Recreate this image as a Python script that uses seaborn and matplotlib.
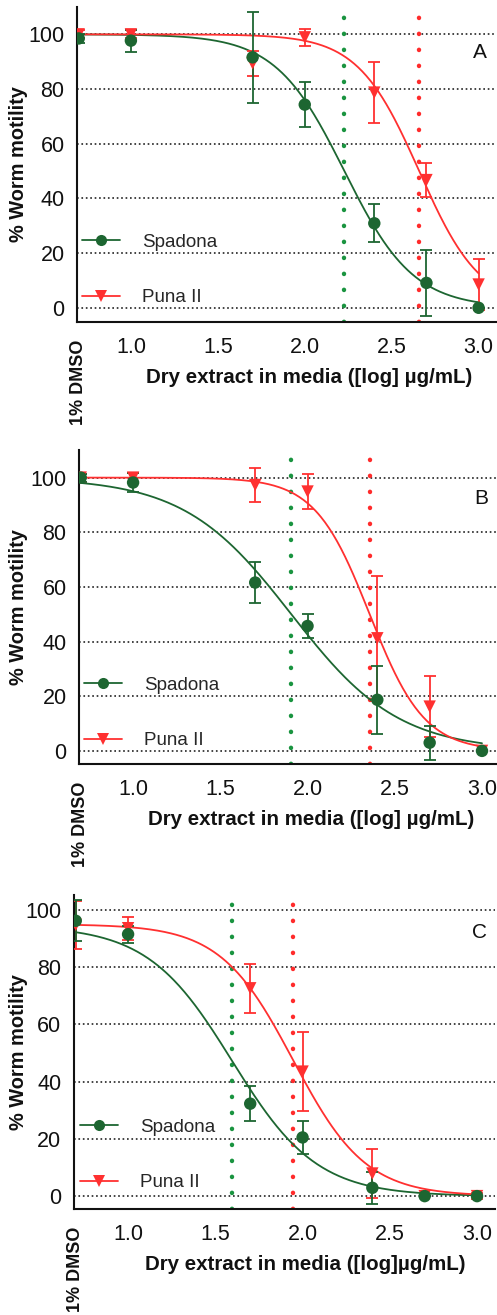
import numpy as np
import pandas as pd
import matplotlib
matplotlib.use("Agg")
import matplotlib.pyplot as plt
import matplotlib.transforms as mtransforms
import seaborn as sns

sns.set_theme(style="white")
plt.rcParams['font.family'] = ['Liberation Sans', 'DejaVu Sans']

# ---------------- data ----------------
doses = [0.7, 1.0, 1.7, 2.0, 2.4, 2.7, 3.0]   # 0.7 = 1% DMSO control position
xticks = [1.0, 1.5, 2.0, 2.5, 3.0]
yticks = [0, 20, 40, 60, 80, 100]
panel_labels = ["A", "B", "C"]
xlabels = ["Dry extract in media ([log] \u00b5g/mL)",
           "Dry extract in media ([log] \u00b5g/mL)",
           "Dry extract in media ([log]\u00b5g/mL)"]

# Panel A
spa_A = [98.5, 97.7, 91.6, 74.3, 30.9, 9.1, 0.0]
spa_A_err = [1.5, 4.0, 16.7, 8.3, 7.0, 12.0, 0.0]
pun_A = [100.0, 100.0, 89.4, 98.9, 78.7, 46.7, 8.5]
pun_A_err = [1.5, 1.5, 4.5, 3.0, 11.3, 6.1, 9.3]
# Panel B
spa_B = [100.0, 98.2, 61.6, 45.7, 18.7, 3.0, 0.0]
spa_B_err = [1.5, 3.6, 7.4, 4.3, 12.4, 6.2, 0.0]
pun_B = [100.0, 100.0, 97.3, 94.9, 41.2, 16.2, 0.0]
pun_B_err = [1.5, 1.8, 6.1, 6.3, 22.8, 11.3, 0.0]
# Panel C
spa_C = [96.2, 91.5, 32.3, 20.5, 2.9, 0.0, 0.0]
spa_C_err = [7.2, 3.0, 6.2, 5.8, 5.7, 0.0, 0.0]
pun_C = [94.8, 93.6, 72.6, 43.5, 7.9, 0.0, 0.0]
pun_C_err = [8.3, 4.0, 8.6, 13.9, 8.6, 0.0, 1.0]

# fitted 4-parameter logistic curves: (top, bottom, logIC50, hill)
fit_spa = [(100.0, 0.0, 2.228, 2.19), (100.0, 0.0, 1.907, 1.41), (94.5, 0.0, 1.596, 1.79)]
fit_pun = [(100.0, 0.0, 2.658, 2.46), (100.0, 0.0, 2.356, 2.77), (95.0, 0.0, 1.946, 2.08)]

spa_vals = [spa_A, spa_B, spa_C]
spa_errs = [spa_A_err, spa_B_err, spa_C_err]
pun_vals = [pun_A, pun_B, pun_C]
pun_errs = [pun_A_err, pun_B_err, pun_C_err]

# ---------------- style ----------------
GREEN = '#1d6631'
GREEN_IC = '#1a9440'
RED = '#ff3030'
RED_IC = '#ff2b2b'
INK = '#111111'

W, H = 497, 1315
fig = plt.figure(figsize=(W / 100, H / 100), dpi=100)

# pixel boxes: left, right, top, bottom ; xlim ; ylim ; xlabel center px ;
# legend anchor (axes frac) ; letter y (axes frac)
boxes = [
    (77, 496, 7, 322, (0.69, 3.10), (-5.2, 110.0), 309, (0.012, 0.165), 0.854),
    (79, 497, 450, 764, (0.69, 3.086), (-4.8, 110.1), 311, (0.012, 0.162), 0.847),
    (74, 495, 895, 1209, (0.69, 3.103), (-4.5, 105.2), 305, (0.015, 0.172), 0.882),
]


def logistic(x, top, bottom, logic50, hill):
    return bottom + (top - bottom) / (1.0 + 10 ** ((x - logic50) * hill))


for i, (l, r, t, b, xl, yl, xlc, lega, lety) in enumerate(boxes):
    ax = fig.add_axes([l / W, 1 - b / H, (r - l) / W, (b - t) / H])
    ax.set_xlim(*xl)
    ax.set_ylim(*yl)
    for yv in yticks:
        ax.axhline(yv, color='#222222', lw=1.2, ls=':', zorder=1)

    # IC50 dotted lines
    ax.axvline(fit_spa[i][2], color=GREEN_IC, lw=3.2, ls=(0, (0.05, 3.55)),
               dash_capstyle='round', zorder=2)
    ax.axvline(fit_pun[i][2], color=RED_IC, lw=3.2, ls=(0, (0.05, 3.55)),
               dash_capstyle='round', zorder=2)

    # fitted curves
    xs = np.linspace(doses[0], doses[-1], 300)
    curves = pd.DataFrame({
        'x': np.concatenate([xs, xs]),
        'y': np.concatenate([logistic(xs, *fit_spa[i]), logistic(xs, *fit_pun[i])]),
        'cultivar': ['Spadona'] * len(xs) + ['Puna II'] * len(xs),
    })
    sns.lineplot(data=curves, x='x', y='y', hue='cultivar',
                 palette={'Spadona': GREEN, 'Puna II': RED}, lw=1.3,
                 legend=False, ax=ax, zorder=3)

    # error bars
    ax.errorbar(doses, pun_vals[i], yerr=pun_errs[i], fmt='none', ecolor=RED,
                elinewidth=1.3, capsize=4, capthick=1.3, zorder=4)
    ax.errorbar(doses, spa_vals[i], yerr=spa_errs[i], fmt='none', ecolor=GREEN,
                elinewidth=1.3, capsize=4, capthick=1.3, zorder=5)

    pts = pd.DataFrame({
        'x': doses + doses,
        'y': pun_vals[i] + spa_vals[i],
        'cultivar': ['Puna II'] * len(doses) + ['Spadona'] * len(doses),
    })
    sns.scatterplot(data=pts, x='x', y='y', hue='cultivar', style='cultivar',
                    markers={'Spadona': 'o', 'Puna II': 'v'},
                    palette={'Spadona': GREEN, 'Puna II': RED},
                    s=80, edgecolor='none', legend=False, ax=ax, zorder=6)

    # legend
    h_spa = plt.Line2D([], [], color=GREEN, lw=1.3, marker='o', ms=8, markeredgewidth=0)
    h_pun = plt.Line2D([], [], color=RED, lw=1.3, marker='v', ms=8, markeredgewidth=0)
    ax.legend([h_spa, h_pun], ['Spadona', 'Puna II'], loc='center left',
              bbox_to_anchor=lega, frameon=False, fontsize=13.5,
              handlelength=2.0, handletextpad=1.2, labelspacing=2.05,
              borderaxespad=0.0, borderpad=0.0)

    # panel letter
    ax.text(0.962, lety, panel_labels[i], transform=ax.transAxes, fontsize=15,
            ha='center', va='center', color=INK)

    # axes styling
    sns.despine(ax=ax)
    for s in ['left', 'bottom']:
        ax.spines[s].set_color(INK)
        ax.spines[s].set_linewidth(1.5)
    ax.set_xticks(xticks)
    ax.set_xticklabels([f"{v:.1f}" for v in xticks])
    ax.set_yticks(yticks)
    ax.tick_params(axis='both', direction='out', length=7, width=1.4,
                   color=INK, labelsize=15.5, labelcolor=INK, pad=3)
    ax.tick_params(axis='y', pad=2)
    ax.tick_params(axis='x', pad=4)
    ax.set_xlabel(xlabels[i], fontsize=14.8, fontweight='bold', color=INK)
    ax.xaxis.set_label_coords((xlc - l) / (r - l), -(46) / (b - t))
    ax.xaxis.label.set_va('top')
    ax.set_ylabel('% Worm motility', fontsize=14.4, fontweight='bold', color=INK)
    ax.yaxis.set_label_coords(-(l - 28) / (r - l), 0.5)
    ax.grid(False)

    trans = mtransforms.blended_transform_factory(ax.transData, ax.transAxes)
    ax.text(doses[0], -18 / (b - t), '1% DMSO', rotation=90, ha='center', va='top',
            fontsize=13, fontweight='bold', color=INK, transform=trans)

fig.savefig('out.png', dpi=100)
